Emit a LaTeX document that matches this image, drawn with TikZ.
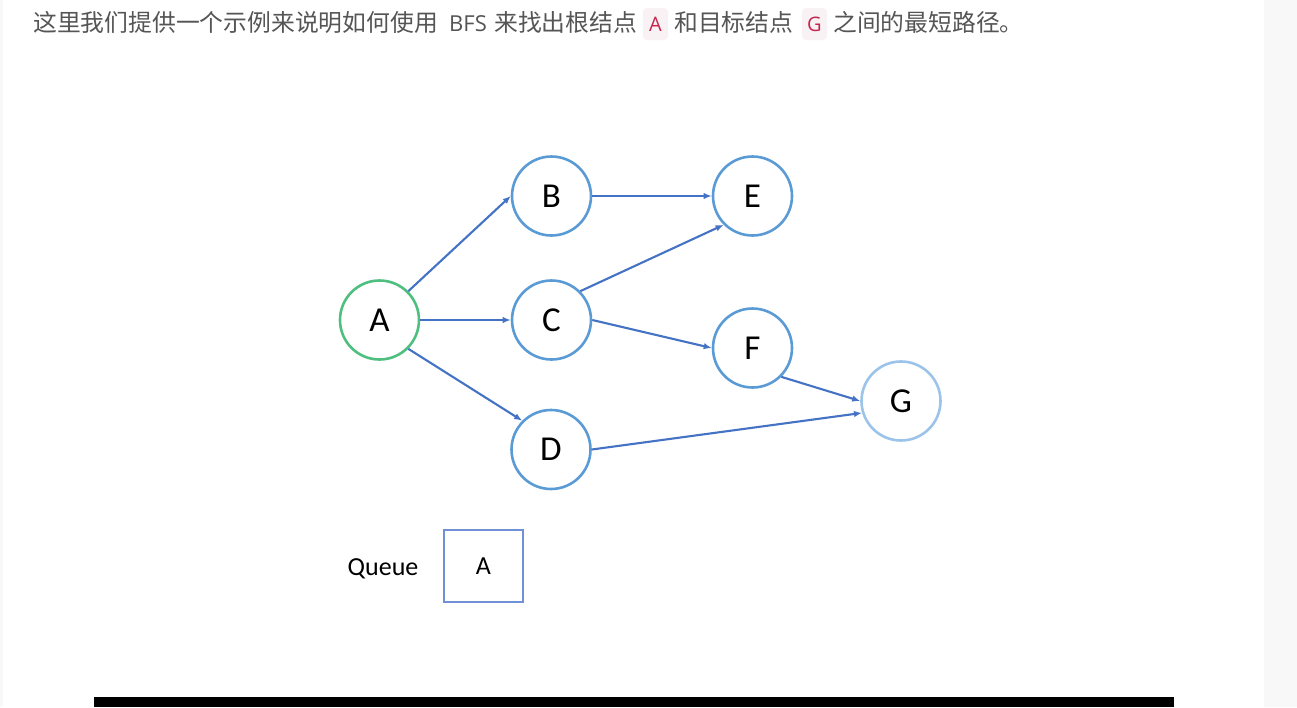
\documentclass[tikz,border=0pt]{standalone}
\usepackage{fontspec}
\setmainfont{Carlito}
\newfontfamily\cjk{Noto Sans CJK SC}
\newfontfamily\uilatin{Open Sans}
\usetikzlibrary{arrows.meta}
\definecolor{pagegray}{HTML}{F8F8F8}
\definecolor{txtgray}{HTML}{555555}
\definecolor{codebg}{HTML}{F9F2F4}
\definecolor{codered}{HTML}{C7254E}
\definecolor{nodeblue}{HTML}{5B9BD5}
\definecolor{nodegreen}{HTML}{4FBF7F}
\definecolor{goalblue}{HTML}{9CC3EA}
\definecolor{arrowblue}{HTML}{4472C4}
\definecolor{queueblue}{HTML}{7090D8}
\tikzset{
  circ/.style={circle, draw=nodeblue, line width=2.6pt, minimum size=79pt, inner sep=0pt, fill=white,
    font=\fontsize{35}{40}\selectfont},
  startcirc/.style={circ, draw=nodegreen},
  goalcirc/.style={circ, draw=goalblue},
  link/.style={-{Latex[length=8pt,width=6.5pt]}, draw=arrowblue, line width=2.1pt},
  cjktext/.style={anchor=base west, inner sep=0pt, text=txtgray, font=\cjk\fontsize{23.8}{28}\selectfont},
  codebox/.style={rounded corners=4pt, fill=codebg, draw=none},
  codetext/.style={anchor=base, inner sep=0pt, text=codered, font=\uilatin\fontsize{20}{24}\selectfont},
  queuebox/.style={draw=queueblue, line width=1.8pt, minimum width=79.5pt, minimum height=72.5pt, inner sep=0pt,
    font=\fontsize{26}{30}\selectfont}
}
\begin{document}
\begin{tikzpicture}[x=1pt,y=-1pt]
\useasboundingbox (0,0) rectangle (1297,707);
\fill[white] (0,0) rectangle (1297,707);
\fill[pagegray] (0,0) rectangle (3,707);
\fill[pagegray] (1264,0) rectangle (1297,707);
\fill[black] (94,697) rectangle (1174,707);

% heading line
\node[cjktext] (t1) at (33,31) {这里我们提供一个示例来说明如何使用};
\node[anchor=base west, inner sep=0pt, text=txtgray, font=\uilatin\fontsize{22}{26}\selectfont] (t2) at (449,31.5) {BFS};
\node[cjktext] (t3) at (494,31) {来找出根结点};
\fill[codebox] (643,8) rectangle (668,40);
\node[codetext] (ca) at (655.5,31.5) {A};
\node[cjktext] (t4) at (674,31) {和目标结点};
\fill[codebox] (802,8) rectangle (827,40);
\node[codetext] (cg) at (814.5,31.5) {G};
\node[cjktext] (t5) at (833,31) {之间的最短路径。};

% graph
\node[startcirc] (A) at (379.5,320) {A};
\node[circ] (B) at (551.5,196) {B};
\node[circ] (C) at (551.5,320) {C};
\node[circ] (D) at (551,449.5) {D};
\node[circ] (E) at (752.5,196) {E};
\node[circ] (F) at (752.5,348) {F};
\node[goalcirc] (G) at (901,401) {G};

\draw[link] (A.north east) -- (B.west);
\draw[link] (A.east) -- (C.west);
\draw[link] (A.south east) -- (D.north west);
\draw[link] (B.east) -- (E.west);
\draw[link] (C.north east) -- (E.south west);
\draw[link] (C.east) -- (F.west);
\draw[link] (F.south east) -- (G.west);
\draw[link] (D.east) -- (G.197);

% queue
\node[anchor=base, inner sep=0pt, font=\fontsize{26}{30}\selectfont] (ql) at (383,575) {Queue};
\node[queuebox] (q) at (483.5,566) {A};
\end{tikzpicture}
\end{document}
